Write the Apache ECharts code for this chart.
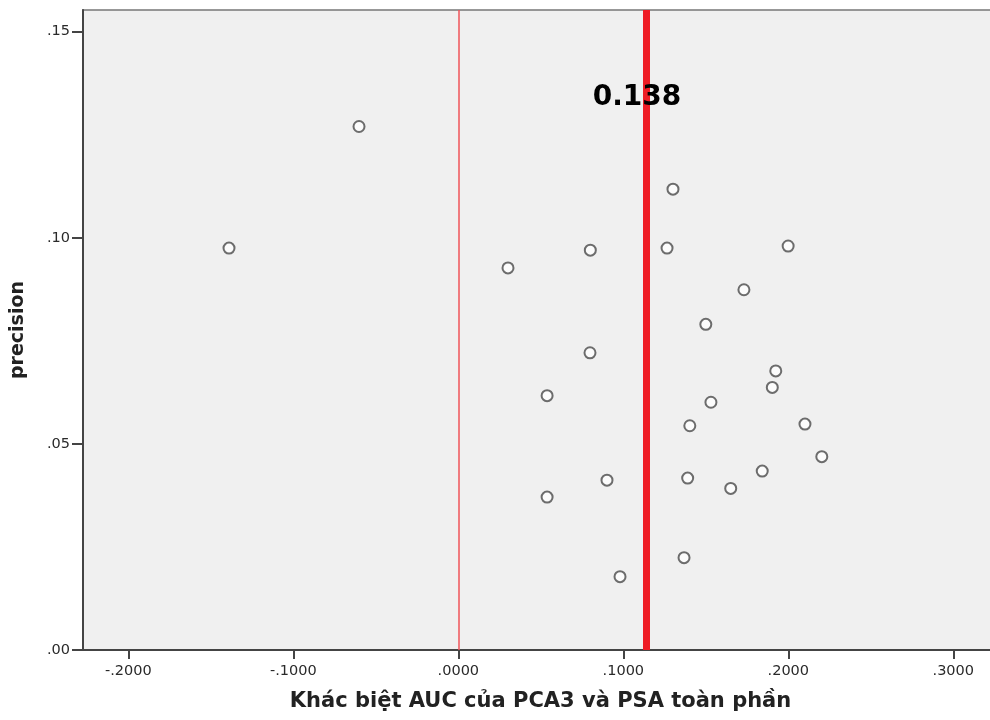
<!DOCTYPE html>
<html>
<head>
<meta charset="utf-8">
<script src="https://cdn.jsdelivr.net/npm/echarts@6/dist/echarts.min.js"></script>
<style>
html,body{margin:0;padding:0;background:#fff;}
#chart{width:990px;height:720px;}
</style>
</head>
<body>
<div id="chart"></div>
<script>
// AUC difference (PCA3 vs total PSA) per study
const xValues = [-0.1390, -0.0602, 0.0301, 0.0538, 0.0538, 0.0800, 0.0798, 0.0901, 0.0980, 0.1265,
                 0.1301, 0.1368, 0.1390, 0.1403, 0.1500, 0.1531, 0.1651, 0.1731, 0.1842, 0.1903,
                 0.1924, 0.1999, 0.2101, 0.2203];
// precision per study
const yValues = [0.0975, 0.1270, 0.0927, 0.0617, 0.0371, 0.0970, 0.0721, 0.0412, 0.0178, 0.0975,
                 0.1118, 0.0224, 0.0417, 0.0544, 0.0790, 0.0601, 0.0392, 0.0874, 0.0434, 0.0637,
                 0.0677, 0.0980, 0.0548, 0.0469];
const xTicks = [-0.2, -0.1, 0.0, 0.1, 0.2, 0.3];
const yTicks = [0.00, 0.05, 0.10, 0.15];
const zeroLine = 0.0;
const refLine = 0.1138;
const refLabel = '0.138';
const refLabelPos = [0.1083, 0.1339];
const xTitle = 'Khác biệt AUC của PCA3 và PSA toàn phần';
const yTitle = 'precision';

const points = xValues.map((x, i) => [x, yValues[i]]);

const chart = echarts.init(document.getElementById('chart'), null, {renderer: 'canvas'});
const axisFont = {fontFamily: 'DejaVu Sans', fontSize: 14.5, color: '#2a2a2a'};
chart.setOption({
  animation: false,
  backgroundColor: '#ffffff',
  grid: {
    left: 83, top: 10, right: -8, bottom: 70,
    outerBoundsMode: 'none',
    containLabel: false,
    show: true, backgroundColor: '#f0f0f0', borderColor: '#777', borderWidth: 1.5
  },
  xAxis: {
    type: 'value',
    min: -0.2275, max: 0.3271,
    name: xTitle, nameLocation: 'middle', nameGap: 41,
    nameTextStyle: {fontFamily: 'DejaVu Sans', fontWeight: 'bold', fontSize: 21, color: '#222'},
    axisLine: {show: true, onZero: false, lineStyle: {color: '#444', width: 2}},
    axisTick: {show: true, length: 9, customValues: xTicks, lineStyle: {color: '#444', width: 2}},
    axisLabel: Object.assign({
      customValues: xTicks, margin: 14,
      formatter: v => (v < 0 ? '-' : '') + Math.abs(v).toFixed(4).replace(/^0/, '')
    }, axisFont),
    splitLine: {show: false}
  },
  yAxis: {
    type: 'value',
    min: 0, max: 0.15526,
    name: yTitle, nameLocation: 'middle', nameGap: 55, nameRotate: 90,
    nameTextStyle: {fontFamily: 'DejaVu Sans', fontWeight: 'bold', fontSize: 19, color: '#222'},
    axisLine: {show: true, onZero: false, lineStyle: {color: '#444', width: 2}},
    axisTick: {show: true, length: 11, customValues: yTicks, lineStyle: {color: '#444', width: 2}},
    axisLabel: Object.assign({
      customValues: yTicks, margin: 13,
      formatter: v => v.toFixed(2).replace(/^0/, '')
    }, axisFont),
    splitLine: {show: false}
  },
  series: [
    {
      type: 'scatter',
      data: points,
      symbol: 'emptyCircle',
      symbolSize: 11,
      itemStyle: {color: '#4a4a4a', borderColor: '#4a4a4a', borderWidth: 2},
      z: 5,
      markLine: {
        silent: true,
        precision: 6,
        symbol: ['none', 'none'],
        label: {show: false},
        data: [
          {xAxis: zeroLine, lineStyle: {color: '#f0555a', width: 1.5, type: 'solid'}},
          {xAxis: refLine, lineStyle: {color: '#ee1c25', width: 7, type: 'solid'}}
        ]
      },
      markPoint: {
        silent: true,
        symbol: 'circle',
        symbolSize: 1,
        itemStyle: {color: 'rgba(0,0,0,0)'},
        label: {
          show: true, position: 'inside', formatter: refLabel,
          fontFamily: 'DejaVu Sans', fontWeight: 'bold', fontSize: 28, color: '#000'
        },
        data: [{coord: refLabelPos}]
      }
    }
  ]
});
</script>
</body>
</html>
